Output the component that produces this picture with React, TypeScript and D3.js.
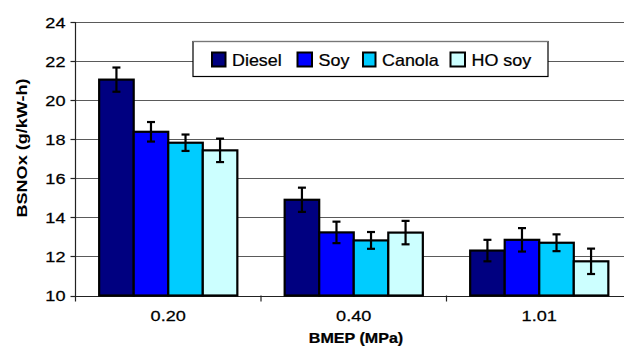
import React from "react";
import * as d3 from "d3";

// BMEP load points (MPa)
const categories = ["0.20", "0.40", "1.01"];
const fuels = ["Diesel", "Soy", "Canola", "HO soy"];
const colors = ["#000080", "#0000ff", "#00ccff", "#ccffff"];

// BSNOx (g/kW-h), one array per fuel, in category order
const diesel = [21.05, 14.9, 12.3];
const soy = [18.38, 13.23, 12.85];
const canola = [17.82, 12.82, 12.7];
const hoSoy = [17.43, 13.22, 11.75];

// error bar half-widths
const dieselErr = [0.62, 0.62, 0.55];
const soyErr = [0.5, 0.55, 0.6];
const canolaErr = [0.42, 0.43, 0.43];
const hoSoyErr = [0.6, 0.6, 0.65];

const yTicks = [10, 12, 14, 16, 18, 20, 22, 24];

const series = [diesel, soy, canola, hoSoy];
const errors = [dieselErr, soyErr, canolaErr, hoSoyErr];

const W = 624;
const H = 355;
const FONT = "'Liberation Sans', Arial, Helvetica, sans-serif";

const margin = { left: 75.5, top: 22, right: -8, bottom: 59.5 };

// the original lettering is wide and a little heavy
function Label({ x, y, children, anchor = "middle", size = 15.5, sx = 1.17, bold = false }) {
  return (
    <text
      transform={`translate(${x},${y}) scale(${sx},1)`}
      textAnchor={anchor}
      fontFamily={FONT}
      fontSize={size}
      fontWeight={bold ? "bold" : "normal"}
      fill="#000"
      stroke="#000"
      strokeWidth={0.25}
    >
      {children}
    </text>
  );
}

export default function App() {
  const x0 = margin.left;
  const x1 = W - margin.right;
  const y0 = H - margin.bottom;
  const y1 = margin.top;

  const x = d3.scaleBand().domain(categories).range([x0, x1]).paddingInner(0).paddingOuter(0);
  const inner = d3
    .scaleBand()
    .domain(fuels)
    .range([0, x.bandwidth()])
    .paddingOuter(0.685)
    .paddingInner(0);
  const y = d3.scaleLinear().domain([10, 24]).range([y0, y1]);

  const bars = [];
  const errs = [];
  categories.forEach((c, ci) => {
    fuels.forEach((f, fi) => {
      const v = series[fi][ci];
      const e = errors[fi][ci];
      const bx = x(c) + inner(f);
      const bw = inner.bandwidth();
      bars.push(
        <rect
          key={`b-${ci}-${fi}`}
          x={bx}
          y={y(v)}
          width={bw}
          height={y(10) - y(v)}
          fill={colors[fi]}
          stroke="#000"
          strokeWidth={2.2}
        />
      );
      const cx = bx + bw / 2;
      errs.push(
        <g key={`e-${ci}-${fi}`} stroke="#000" strokeWidth={2.2}>
          <line x1={cx} x2={cx} y1={y(v + e)} y2={y(v - e)} />
          <line x1={cx - 4} x2={cx + 4} y1={y(v + e)} y2={y(v + e)} />
          <line x1={cx - 4} x2={cx + 4} y1={y(v - e)} y2={y(v - e)} />
        </g>
      );
    });
  });

  // legend layout
  const legX = 193;
  const legY = 41.5;
  const legW = 355;
  const legH = 35;
  const swatchX = [212, 297.5, 363, 450.5];
  const swatchW = [13.5, 14.5, 12.5, 14.5];

  return (
    <div style={{ position: "absolute", left: 0, top: 0 }}>
      <svg width={W} height={H} viewBox={`0 0 ${W} ${H}`} style={{ display: "block", background: "#fff" }}>
        {/* gridlines */}
        {yTicks.map((t) => (
          <line
            key={`g-${t}`}
            x1={x0}
            x2={x1}
            y1={Math.round(y(t)) + 0.5}
            y2={Math.round(y(t)) + 0.5}
            stroke={t === 10 ? "#222" : "#5a5a5a"}
            strokeWidth={1.2}
          />
        ))}
        {/* y axis */}
        <line x1={x0} x2={x0} y1={y1} y2={y0 + 6} stroke="#222" strokeWidth={1.2} />
        {yTicks.map((t) => (
          <g key={`yt-${t}`}>
            <line x1={x0 - 5} x2={x0} y1={Math.round(y(t)) + 0.5} y2={Math.round(y(t)) + 0.5} stroke="#222" strokeWidth={1.2} />
            <Label x={x0 - 10} y={y(t) + 5.5} anchor="end">
              {t}
            </Label>
          </g>
        ))}
        {/* x ticks */}
        {categories.slice(1).map((c) => (
          <line key={`xt-${c}`} x1={x(c)} x2={x(c)} y1={y0} y2={y0 + 6} stroke="#222" strokeWidth={1.2} />
        ))}
        {categories.map((c) => (
          <Label key={`xl-${c}`} x={x(c) + x.bandwidth() / 2} y={y0 + 25}>
            {c}
          </Label>
        ))}

        {bars}
        {errs}

        {/* legend */}
        <rect x={legX} y={legY} width={legW} height={legH} fill="#fff" stroke="#000" strokeWidth={1.2} />
        <line x1={legX} x2={legX + legW} y1={legY} y2={legY} stroke="#777" strokeWidth={1.2} />
        {fuels.map((f, i) => (
          <g key={`lg-${f}`}>
            <rect x={swatchX[i]} y={52.5} width={swatchW[i]} height={14} fill={colors[i]} stroke="#000" strokeWidth={2} />
            <Label x={swatchX[i] + swatchW[i] + 6.5} y={66} anchor="start" size={16} sx={1.12}>
              {f}
            </Label>
          </g>
        ))}

        {/* axis titles */}
        <Label x={356} y={343} bold size={14} sx={1.15}>
          BMEP (MPa)
        </Label>
        <text
          transform={`translate(27,148) rotate(-90) scale(1.29,1.1)`}
          textAnchor="middle"
          fontFamily={FONT}
          fontSize={14}
          fontWeight="bold"
        >
          BSNOx (g/kW-h)
        </text>
      </svg>
    </div>
  );
}
